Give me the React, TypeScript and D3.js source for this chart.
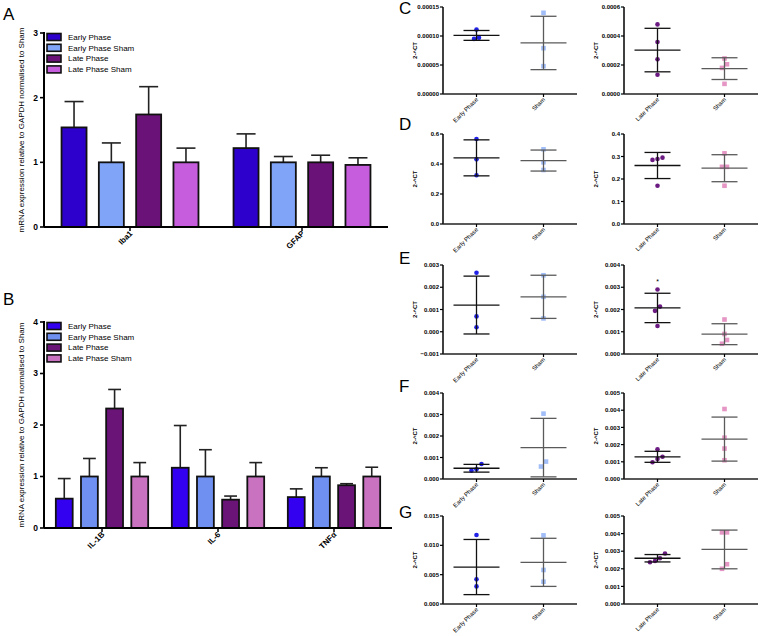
import * as d3 from "d3";

// bar charts (A, B)
const seriesNames = ["Early Phase", "Early Phase Sham", "Late Phase", "Late Phase Sham"];
const colorsA = ["#2d00cc", "#80a4f8", "#6b1278", "#c65ddc"];
const colorsB = ["#3300f0", "#6f90f0", "#6a1478", "#c872c0"];

const genesA = ["Iba1", "GFAP"];
const meansA = [
  [1.54, 1.0, 1.74, 1.0],
  [1.22, 1.0, 1.0, 0.96],
];
const errA = [
  [0.40, 0.30, 0.43, 0.22],
  [0.22, 0.09, 0.11, 0.11],
];
const ticksA = [0, 1, 2, 3];

const genesB = ["IL-1B", "IL-6", "TNFα"];
const meansB = [
  [0.57, 1.0, 2.32, 1.0],
  [1.17, 1.0, 0.55, 1.0],
  [0.6, 1.0, 0.83, 1.0],
];
const errB = [
  [0.39, 0.35, 0.37, 0.27],
  [0.82, 0.52, 0.07, 0.27],
  [0.16, 0.17, 0.03, 0.18],
];
const ticksB = [0, 1, 2, 3, 4];

// dot plots (C-G): points, mean, sd
const leftCats = ["Early Phase", "Sham"];
const rightCats = ["Late Phase", "Sham"];
const dotColors = { early: "#2020e6", earlySham: "#a2bef8", late: "#6a1a80", lateSham: "#e596c4" };

const cEarly = [0.000111, 0.000095, 0.000097];
const cEarlySham = [0.00014, 0.000079, 0.000048];
const cLate = [0.00048, 0.000359, 0.000239, 0.000133];
const cLateSham = [0.000245, 0.000205, 0.00018, 0.00007];
const cStats = [[0.000101, 0.0000085], [0.000088, 0.000046], [0.000303, 0.00015], [0.000175, 0.000075]];

const dEarly = [0.567, 0.431, 0.325];
const dEarlySham = [0.498, 0.411, 0.36];
const dLate = [0.289, 0.285, 0.295, 0.17];
const dLateSham = [0.314, 0.254, 0.254, 0.17];
const dStats = [[0.441, 0.12], [0.423, 0.07], [0.26, 0.058], [0.248, 0.06]];

const eEarly = [0.00265, 0.00069, 0.0002];
const eEarlySham = [0.00254, 0.00157, 0.0006];
const eLate = [0.0029, 0.00213, 0.00194, 0.00126];
const eLateSham = [0.00155, 0.0009, 0.00063, 0.00046];
const eStats = [[0.0012, 0.0013], [0.00157, 0.00097], [0.00207, 0.00066], [0.00089, 0.00047]];
const eStar = 0.0033;

const fEarly = [0.0007, 0.00039, 0.00045];
const fEarlySham = [0.00304, 0.00081, 0.00058];
const fLate = [0.00173, 0.00129, 0.00117, 0.00097];
const fLateSham = [0.00407, 0.0024, 0.00177, 0.00109];
const fStats = [[0.0005, 0.00018], [0.00146, 0.00136], [0.00129, 0.00032], [0.00232, 0.00128]];

const gEarly = [0.01176, 0.0042, 0.003];
const gEarlySham = [0.0117, 0.0058, 0.0038];
const gLate = [0.00287, 0.0026, 0.00244, 0.00237];
const gLateSham = [0.00407, 0.00407, 0.00226, 0.002];
const gStats = [[0.0063, 0.0047], [0.0071, 0.0041], [0.0026, 0.00021], [0.0031, 0.0011]];

const font = "'Liberation Sans', Arial, sans-serif";

const rows = [
  {
    letter: "C", letterY: 14, top: 7, bottom: 94,
    left: { domain: [0, 0.00015], ticks: [0, 0.00005, 0.0001, 0.00015], fmt: ".5f" },
    right: { domain: [0, 0.0006], ticks: [0, 0.0002, 0.0004, 0.0006], fmt: ".4f" },
    data: [cEarly, cEarlySham, cLate, cLateSham], stats: cStats,
  },
  {
    letter: "D", letterY: 130, top: 134, bottom: 224,
    left: { domain: [0, 0.6], ticks: [0, 0.2, 0.4, 0.6], fmt: ".1f" },
    right: { domain: [0, 0.4], ticks: [0, 0.1, 0.2, 0.3, 0.4], fmt: ".1f" },
    data: [dEarly, dEarlySham, dLate, dLateSham], stats: dStats,
  },
  {
    letter: "E", letterY: 264, top: 265, bottom: 354,
    left: { domain: [-0.001, 0.003], ticks: [-0.001, 0, 0.001, 0.002, 0.003], fmt: ".3f" },
    right: { domain: [0, 0.004], ticks: [0, 0.001, 0.002, 0.003, 0.004], fmt: ".3f" },
    data: [eEarly, eEarlySham, eLate, eLateSham], stats: eStats, star: eStar,
  },
  {
    letter: "F", letterY: 392, top: 393, bottom: 479,
    left: { domain: [0, 0.004], ticks: [0, 0.001, 0.002, 0.003, 0.004], fmt: ".3f" },
    right: { domain: [0, 0.005], ticks: [0, 0.001, 0.002, 0.003, 0.004, 0.005], fmt: ".3f" },
    data: [fEarly, fEarlySham, fLate, fLateSham], stats: fStats,
  },
  {
    letter: "G", letterY: 518, top: 516, bottom: 604,
    left: { domain: [0, 0.015], ticks: [0, 0.005, 0.01, 0.015], fmt: ".3f" },
    right: { domain: [0, 0.005], ticks: [0, 0.001, 0.002, 0.003, 0.004, 0.005], fmt: ".3f" },
    data: [gEarly, gEarlySham, gLate, gLateSham], stats: gStats,
  },
];

function BarPanel({ letter, letterY, genes, means, errs, colors, ticks, top, bottom, right, legendTop }) {
  const left = 44;
  const y = d3.scaleLinear([0, ticks[ticks.length - 1]], [bottom, top]);
  const x0 = d3.scaleBand(genes, [left, right]);
  const x1 = d3.scaleBand(seriesNames, [0, x0.bandwidth()]).paddingInner(0.33).paddingOuter(0.47);
  const bw = x1.bandwidth();
  return (
    <g fontFamily={font}>
      <text x={3} y={letterY} fontSize={17}>{letter}</text>
      <text
        transform={`translate(24,${(top + bottom) / 2}) rotate(-90)`}
        textAnchor="middle"
        fontSize={8}
      >
        mRNA expression relative to GAPDH normalised to Sham
      </text>
      {genes.map((g, gi) => (
        <g key={g}>
          {seriesNames.map((s, si) => {
            const bx = x0(g) + x1(s);
            const cx = bx + bw / 2;
            const v = means[gi][si];
            const e = v + errs[gi][si];
            return (
              <g key={s}>
                <line x1={cx} x2={cx} y1={y(v)} y2={y(e)} stroke="#222" strokeWidth={1.6} />
                <line x1={cx - bw * 0.38} x2={cx + bw * 0.38} y1={y(e)} y2={y(e)} stroke="#222" strokeWidth={1.6} />
                <rect x={bx} y={y(v)} width={bw} height={y(0) - y(v)} fill={colors[si]} stroke="#111" strokeWidth={1.8} />
              </g>
            );
          })}
          <line x1={x0(g) + x0.bandwidth() / 2} x2={x0(g) + x0.bandwidth() / 2} y1={bottom} y2={bottom + 4} stroke="#000" strokeWidth={1.5} />
          <text
            transform={`translate(${x0(g) + x0.bandwidth() / 2 + 3},${bottom + 7}) rotate(-45)`}
            textAnchor="end"
            fontSize={8}
            fontWeight="bold"
          >
            {g}
          </text>
        </g>
      ))}
      <line x1={left} x2={left} y1={top - 1} y2={bottom} stroke="#000" strokeWidth={2} />
      <line x1={left} x2={right} y1={bottom} y2={bottom} stroke="#000" strokeWidth={2} />
      {ticks.map((t) => (
        <g key={t}>
          <line x1={left - 4} x2={left} y1={y(t)} y2={y(t)} stroke="#000" strokeWidth={1.6} />
          <text x={left - 6} y={y(t)} dy="0.35em" textAnchor="end" fontSize={8.5} fontWeight="bold">{t}</text>
        </g>
      ))}
      {seriesNames.map((s, i) => (
        <g key={s} transform={`translate(47,${legendTop + i * 10.8})`}>
          <rect x={0} y={-3.5} width={14} height={7} fill={colors[i]} stroke="#111" strokeWidth={1.6} />
          <text x={21} y={0} dy="0.35em" fontSize={8}>{s}</text>
        </g>
      ))}
    </g>
  );
}

function spreadOffsets(vals, y) {
  const idx = vals.map((_, i) => i).sort((a, b) => y(vals[b]) - y(vals[a]));
  const off = vals.map(() => 0);
  let cluster = [idx[0]];
  const flush = () => {
    cluster.forEach((k, j) => (off[k] = (j - (cluster.length - 1) / 2) * 5));
  };
  for (let i = 1; i < idx.length; i++) {
    if (Math.abs(y(vals[idx[i]]) - y(vals[cluster[cluster.length - 1]])) < 5.5) cluster.push(idx[i]);
    else {
      flush();
      cluster = [idx[i]];
    }
  }
  flush();
  return off;
}

function DotPlot({ x0, top, bottom, spec, cats, groups, star }) {
  const w = 134;
  const y = d3.scaleLinear(spec.domain, [bottom, top]);
  const x = d3.scalePoint(cats, [x0, x0 + w]).padding(0.5);
  const fmt = d3.format(spec.fmt);
  return (
    <g fontFamily={font}>
      <text
        transform={`translate(${x0 - 26},${(top + bottom) / 2}) rotate(-90)`}
        textAnchor="middle"
        fontSize={6}
        fontWeight="bold"
      >
        2-^CT
      </text>
      {groups.map((g, gi) => {
        const cx = x(cats[gi]);
        const off = spreadOffsets(g.pts, y);
        const hi = g.mean + g.sd;
        const lo = g.mean - g.sd;
        return (
          <g key={gi}>
            {g.pts.map((v, i) =>
              g.square ? (
                <rect key={i} x={cx + off[i] - 2.3} y={y(v) - 2.3} width={4.6} height={4.6} fill={g.color} />
              ) : (
                <circle key={i} cx={cx + off[i]} cy={y(v)} r={2.3} fill={g.color} />
              )
            )}
            <g stroke={g.line} strokeWidth={1.3}>
              <line x1={cx} x2={cx} y1={y(hi)} y2={y(lo)} />
              <line x1={cx - 13} x2={cx + 13} y1={y(hi)} y2={y(hi)} />
              <line x1={cx - 13} x2={cx + 13} y1={y(lo)} y2={y(lo)} />
              <line x1={cx - 23} x2={cx + 23} y1={y(g.mean)} y2={y(g.mean)} />
            </g>
          </g>
        );
      })}
      {star !== undefined && (
        <text x={x(cats[0])} y={y(star)} dy="0.5em" textAnchor="middle" fontSize={7}>*</text>
      )}
      <line x1={x0} x2={x0} y1={top} y2={bottom} stroke="#000" strokeWidth={1.5} />
      <line x1={x0} x2={x0 + w} y1={bottom} y2={bottom} stroke="#222" strokeWidth={1.5} />
      {spec.ticks.map((t) => (
        <g key={t}>
          <line x1={x0 - 3} x2={x0} y1={y(t)} y2={y(t)} stroke="#000" strokeWidth={1.2} />
          <text x={x0 - 4} y={y(t)} dy="0.35em" textAnchor="end" fontSize={6} fontWeight="bold">{fmt(t)}</text>
        </g>
      ))}
      {cats.map((c) => (
        <g key={c}>
          <line x1={x(c)} x2={x(c)} y1={bottom} y2={bottom + 3} stroke="#000" strokeWidth={1.2} />
          <text
            transform={`translate(${x(c) + 2},${bottom + 6}) rotate(-45)`}
            textAnchor="end"
            fontSize={6}
          >
            {c}
          </text>
        </g>
      ))}
    </g>
  );
}

export default function App() {
  return (
    <svg width={765} height={636} style={{ position: "absolute", left: 0, top: 0, background: "#fff" }}>
      <rect width={765} height={636} fill="#fff" />
      <BarPanel
        letter="A" letterY={20} genes={genesA} means={meansA} errs={errA} colors={colorsA}
        ticks={ticksA} top={33} bottom={227} right={388} legendTop={37}
      />
      <BarPanel
        letter="B" letterY={305} genes={genesB} means={meansB} errs={errB} colors={colorsB}
        ticks={ticksB} top={322} bottom={528} right={392} legendTop={326}
      />
      {rows.map((r) => (
        <g key={r.letter}>
          <text x={399} y={r.letterY} fontSize={17} fontFamily={font}>{r.letter}</text>
          <DotPlot
            x0={443} top={r.top} bottom={r.bottom} spec={r.left} cats={leftCats}
            groups={[
              { pts: r.data[0], mean: r.stats[0][0], sd: r.stats[0][1], color: dotColors.early, line: "#111", square: false },
              { pts: r.data[1], mean: r.stats[1][0], sd: r.stats[1][1], color: dotColors.earlySham, line: "#5a5a5a", square: true },
            ]}
          />
          <DotPlot
            x0={624} top={r.top} bottom={r.bottom} spec={r.right} cats={rightCats} star={r.star}
            groups={[
              { pts: r.data[2], mean: r.stats[2][0], sd: r.stats[2][1], color: dotColors.late, line: "#111", square: false },
              { pts: r.data[3], mean: r.stats[3][0], sd: r.stats[3][1], color: dotColors.lateSham, line: "#5a5a5a", square: true },
            ]}
          />
        </g>
      ))}
    </svg>
  );
}
